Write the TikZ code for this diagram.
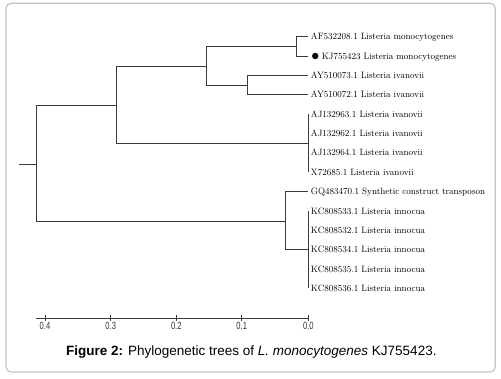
\documentclass[tikz,border=0pt]{standalone}
\usepackage{fontspec}
\setsansfont{Liberation Sans}
\usepackage{tikz}
\usetikzlibrary{positioning}

\definecolor{branchgray}{HTML}{3A3A3A}
\definecolor{framegray}{HTML}{C4C4C4}

\begin{document}
\begin{tikzpicture}[x=1pt, y=-1pt,
	branch/.style={draw=branchgray, line width=0.9pt},
	leaf/.style={anchor=west, inner xsep=2.6pt, inner ysep=0pt, text height=6.3pt, text depth=0pt,
		font=\fontsize{9.2}{9.2}\selectfont, xscale=0.955, text=black},
	tick/.style={anchor=north, inner sep=0pt, font=\sffamily\fontsize{10.5}{10.5}\selectfont, xscale=0.72, text=black!80}]
	\useasboundingbox (0,0) rectangle (501,378);
	\draw[framegray, line width=1.2pt, rounded corners=5pt] (6,3.3) rectangle (495.3,372);

	% inner nodes of the tree
	\coordinate (stub) at (19.3,164);
	\coordinate (root) at (36,164);
	\coordinate (upper) at (116.3,105.3);
	\coordinate (lower) at (285.7,221.7);
	\coordinate (cladeA) at (206.7,66.7);
	\coordinate (mono) at (296,46.3);
	\coordinate (ayp) at (247.7,85);
	\coordinate (ajc) at (308.3,143.3);
	\coordinate (kcc) at (308.3,249.7);

	% leaf tips
	\foreach \i/\y in {1/36.7, 2/56, 3/75.3, 4/94.7, 5/114, 6/133.3, 7/152.7, 8/172,
		9/191.7, 10/211, 11/230.3, 12/249.7, 13/269, 14/288.3}
		\coordinate (t\i) at (308.3,\y);

	% leaf labels
	\node[leaf] (l1) at (t1) {AF532208.1 Listeria monocytogenes};
	\node[fill=black, circle, inner sep=0pt, minimum size=6.4pt] (kjdot) at (315.2,56) {};
	\node[leaf, right=0.6pt of kjdot] (l2) {KJ755423 Listeria monocytogenes};
	\node[leaf] (l3) at (t3) {AY510073.1 Listeria ivanovii};
	\node[leaf] (l4) at (t4) {AY510072.1 Listeria ivanovii};
	\node[leaf] (l5) at (t5) {AJ132963.1 Listeria ivanovii};
	\node[leaf] (l6) at (t6) {AJ132962.1 Listeria ivanovii};
	\node[leaf] (l7) at (t7) {AJ132964.1 Listeria ivanovii};
	\node[leaf] (l8) at (t8) {X72685.1 Listeria ivanovii};
	\node[leaf] (l9) at (t9) {GQ483470.1 Synthetic construct transposon};
	\node[leaf] (l10) at (t10) {KC808533.1 Listeria innocua};
	\node[leaf] (l11) at (t11) {KC808532.1 Listeria innocua};
	\node[leaf] (l12) at (t12) {KC808534.1 Listeria innocua};
	\node[leaf] (l13) at (t13) {KC808535.1 Listeria innocua};
	\node[leaf] (l14) at (t14) {KC808536.1 Listeria innocua};

	% branches
	\draw[branch] (stub) -- (root);
	\draw[branch] (root) |- (upper);
	\draw[branch] (root) |- (lower);
	\draw[branch] (upper) |- (cladeA);
	\draw[branch] (upper) |- (ajc);
	\draw[branch] (cladeA) |- (mono);
	\draw[branch] (cladeA) |- (ayp);
	\draw[branch] (mono) |- (t1);
	\draw[branch] (mono) |- (t2);
	\draw[branch] (ayp) |- (t3);
	\draw[branch] (ayp) |- (t4);
	\draw[branch] (t5) -- (t8);
	\draw[branch] (lower) |- (t9);
	\draw[branch] (lower) |- (kcc);
	\draw[branch] (t10) -- (t14);

	% distance scale
	\coordinate (sL) at (36,318);
	\coordinate (sR) at (308.3,318);
	\draw[branch] (sL) -- (sR);
	\foreach \v/\x in {0.4/45, 0.3/110.7, 0.2/176.3, 0.1/241.7, 0.0/308.3} {
		\draw[branch] (\x,314.5) -- (\x,320.5);
		\node[tick] at (\x,321.8) {\v};
	}

	\node[anchor=base, font=\sffamily\fontsize{13.5}{13.5}\selectfont] (caption) at (251.3,355)
		{\textbf{Figure 2:} Phylogenetic trees of \textit{L. monocytogenes} KJ755423.};
\end{tikzpicture}
\end{document}
